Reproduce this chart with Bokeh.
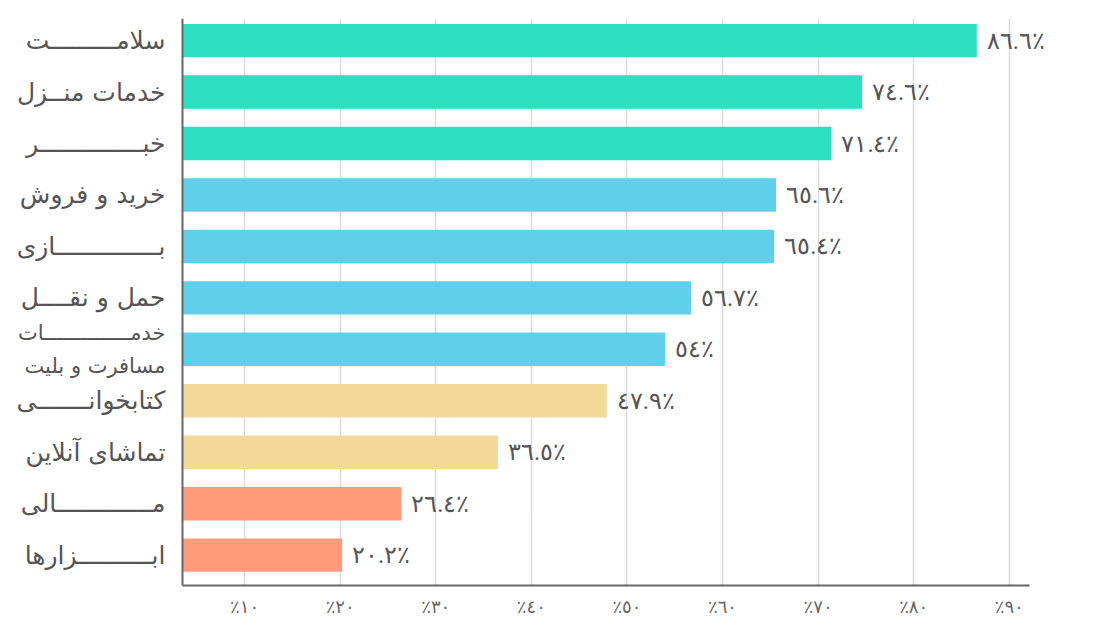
from bokeh.plotting import figure
from bokeh.models import Range1d, LabelSet, ColumnDataSource, Span
from bokeh.core.properties import value
from bokeh.embed import file_html
from bokeh.resources import INLINE

# ---- data (top to bottom) ----
categories = [
    "سلامـــــــــت",
    "خدمات منــزل",
    "خبــــــــــــــر",
    "خرید و فروش",
    "بــــــــــــــازی",
    "حمل و نقــــل",
    "خدمــــــــــــــات\nمسافرت و بلیت",
    "کتابخوانـــــــی",
    "تماشای آنلاین",
    "مـــــــــــــالی",
    "ابــــــــــزارها",
]
values = [86.6, 74.6, 71.4, 65.6, 65.4, 56.7, 54.0, 47.9, 36.5, 26.4, 20.2]
groups = ["g1", "g1", "g1", "g2", "g2", "g2", "g2", "g3", "g3", "g4", "g4"]
x_ticks = [10, 20, 30, 40, 50, 60, 70, 80, 90]
x_tick_labels = ["٪١٠", "٪٢٠", "٪٣٠", "٪٤٠", "٪٥٠", "٪٦٠", "٪٧٠", "٪٨٠", "٪٩٠"]

group_colors = {"g1": "#2bdfc0", "g2": "#5fd0ea", "g3": "#f2d99a", "g4": "#ff9b7b"}
AR_DIGITS = str.maketrans("0123456789", "٠١٢٣٤٥٦٧٨٩")


def fmt(v):
    s = f"{v:.1f}".rstrip("0").rstrip(".")
    return s.translate(AR_DIGITS) + "٪"


X_LEFT, X_START, AXIS_END, X_END = -15.54, 3.5, 92.1, 95.36
FONT = "DejaVu Sans"

idx = list(range(len(categories)))
src = ColumnDataSource(dict(
    y=idx,
    value=values,
    left=[X_START] * len(values),
    color=[group_colors[g] for g in groups],
    vlabel=[fmt(v) for v in values],
))
single = [i for i, c in enumerate(categories) if "\n" not in c]
multi = [i for i, c in enumerate(categories) if "\n" in c]
src_single = ColumnDataSource(dict(y=single, left=[X_START] * len(single),
                                   cat=[categories[i] for i in single]))
src_multi = ColumnDataSource(dict(y=multi, left=[X_START] * len(multi),
                                  cat=[categories[i] for i in multi]))

p = figure(width=1091, height=627, output_backend="svg", toolbar_location=None,
           x_range=Range1d(X_LEFT, X_END), y_range=Range1d(10.59, -0.43),
           min_border_left=0, min_border_right=31, min_border_top=18,
           min_border_bottom=42)
p.outline_line_color = None
p.background_fill_color = "white"
p.yaxis.visible = False
p.ygrid.grid_line_color = None

p.hbar(y="y", left="left", right="value", height=0.65, color="color",
       line_color=None, source=src)

# x axis
p.xaxis.ticker = x_ticks
p.xaxis.bounds = (X_START, AXIS_END)
p.xaxis.major_label_overrides = dict(zip(x_ticks, x_tick_labels))
p.xaxis.axis_line_color = "#666666"
p.xaxis.axis_line_width = 2
p.xaxis.major_tick_line_color = None
p.xaxis.major_tick_out = 0
p.xaxis.major_tick_in = 0
p.xaxis.minor_tick_line_color = None
p.xaxis.major_label_text_font = FONT
p.xaxis.major_label_text_font_size = "18px"
p.xaxis.major_label_text_color = "#666666"
p.xaxis.major_label_standoff = 10

p.xgrid.ticker = x_ticks
p.xgrid.grid_line_color = "#dcdcdc"
p.xgrid.grid_line_width = 1.5

# vertical axis line
p.add_layout(Span(location=X_START, dimension="height", line_color="#666666",
                  line_width=2))

# category labels
p.text(x="left", y="y", text="cat", source=src_single, x_offset=-17,
       text_align="right", text_baseline="middle", text_font=value(FONT),
       text_font_size="25px", text_color="#555555")
p.text(x="left", y="y", text="cat", source=src_multi, x_offset=-17,
       text_align="right", text_baseline="middle", text_font=value(FONT),
       text_font_size="21px", text_color="#555555", text_line_height=1.4)

# value labels
p.add_layout(LabelSet(x="value", y="y", text="vlabel", source=src, x_offset=10,
                      text_align="left", text_baseline="middle",
                      text_font=FONT, text_font_size="24px",
                      text_color="#555555"))

open("out.html", "w").write(file_html(p, INLINE))
